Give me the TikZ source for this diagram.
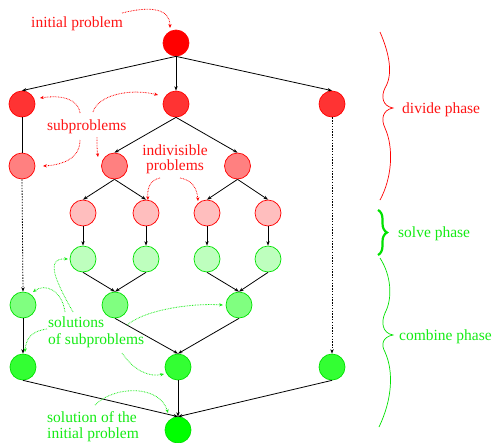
\documentclass[tikz,border=0pt]{standalone}
\usepackage{fontspec}
\setmainfont{Liberation Serif}
\usetikzlibrary{arrows.meta,decorations.pathreplacing}
\definecolor{cR0}{RGB}{255,0,0}
\definecolor{cR1}{RGB}{255,51,51}
\definecolor{cR2}{RGB}{255,128,128}
\definecolor{cR3}{RGB}{255,190,190}
\definecolor{cG4}{RGB}{190,255,190}
\definecolor{cG5}{RGB}{128,255,128}
\definecolor{cG6}{RGB}{51,255,51}
\definecolor{cG7}{RGB}{0,255,0}
\definecolor{txR}{RGB}{255,20,20}
\definecolor{txG}{RGB}{20,235,20}
\definecolor{bdG}{RGB}{0,225,0}
\begin{document}
\begin{tikzpicture}[x=1pt,y=-1pt,
  nd/.style={circle,minimum size=26pt,inner sep=0pt,line width=0.7pt},
  rn/.style={nd,draw=red,fill=#1},
  gn/.style={nd,draw=bdG,fill=#1},
  edge/.style={-{Stealth[length=4.5pt,width=3.4pt]},line width=0.8pt},
  pline/.style={line width=0.8pt},
  dedge/.style={edge,dash pattern=on 1.4pt off 1.4pt},
  ann/.style={-{Stealth[length=3.8pt,width=3.2pt]},line width=0.8pt,dash pattern=on 0.7pt off 0.9pt},
  lbl/.style={inner sep=0pt,font=\fontsize{15.5}{14.5}\selectfont},
  brc/.style={line width=0.7pt}
]
\useasboundingbox (0,0) rectangle (494,442);

% nodes
\node[rn=cR0] (r) at (176,43) {};
\node[rn=cR1] (a1) at (22,104) {};
\node[rn=cR1] (b1) at (176,104) {};
\node[rn=cR1] (c1) at (332,104) {};
\node[rn=cR2] (a2) at (22,166) {};
\node[rn=cR2] (b2) at (114.5,166) {};
\node[rn=cR2] (c2) at (237.5,166) {};
\node[rn=cR3] (d1) at (83,213) {};
\node[rn=cR3] (d2) at (146,213) {};
\node[rn=cR3] (d3) at (207,213) {};
\node[rn=cR3] (d4) at (268,213) {};
\node[gn=cG4] (e1) at (83,259) {};
\node[gn=cG4] (e2) at (146,259) {};
\node[gn=cG4] (e3) at (207,259) {};
\node[gn=cG4] (e4) at (268,259) {};
\node[gn=cG5] (f1) at (23,305) {};
\node[gn=cG5] (f2) at (115,305) {};
\node[gn=cG5] (f3) at (239,305) {};
\node[gn=cG6] (g1) at (23,367) {};
\node[gn=cG6] (g2) at (178,367) {};
\node[gn=cG6] (g3) at (332,367) {};
\node[gn=cG7] (h) at (178,430) {};

% edges
\draw[edge] (r.south) -- (a1.north);
\draw[edge] (r.south) -- (b1.north);
\draw[edge] (r.south) -- (c1.north);
\draw[pline] (a1.south) -- (a2.north);
\draw[edge] (b1.south) -- (b2.north);
\draw[edge] (b1.south) -- (c2.north);
\draw[edge] (b2.south) -- (d1.north);
\draw[edge] (b2.south) -- (d2.north);
\draw[edge] (c2.south) -- (d3.north);
\draw[edge] (c2.south) -- (d4.north);
\draw[edge] (d1.south) -- (e1.north);
\draw[edge] (d2.south) -- (e2.north);
\draw[edge] (d3.south) -- (e3.north);
\draw[edge] (d4.south) -- (e4.north);
\draw[edge] (e1.south) -- (f2.north);
\draw[edge] (e2.south) -- (f2.north);
\draw[edge] (e3.south) -- (f3.north);
\draw[edge] (e4.south) -- (f3.north);
\draw[dedge] (a2.south) -- (f1.north);
\draw[dedge] (c1.south) -- (g3.north);
\draw[edge] (f1.south) -- (g1.north);
\draw[edge] (f2.south) -- (g2.north);
\draw[edge] (f3.south) -- (g2.north);
\draw[edge] (g1.south) -- (h.north);
\draw[edge] (g2.south) -- (h.north);
\draw[edge] (g3.south) -- (h.north);

% labels
\node[lbl,text=txR,anchor=base west] (tInit) at (31,27) {initial problem};
\node[lbl,text=txR,anchor=base west] (tSub) at (47,130) {subproblems};
\node[lbl,text=txR,anchor=base,align=center] (tInd) at (175,170) {indivisible\\problems};
\node[lbl,text=txG,anchor=base west,align=left,font=\fontsize{15.5}{17}\selectfont] (tSol) at (48,344) {solutions\\of subproblems};
\node[lbl,text=txG,anchor=base west,align=left,font=\fontsize{15.5}{15.5}\selectfont] (tFin) at (47,438) {solution of the\\initial problem};
\node[lbl,text=txR,anchor=base west] (tDiv) at (402,113) {divide phase};
\node[lbl,text=txG,anchor=base west] (tSolve) at (398,237) {solve phase};
\node[lbl,text=txG,anchor=base west] (tComb) at (399,340) {combine phase};

% annotation arrows
\coordinate (p0) at (122,13); \coordinate (q0) at (170,28);
\draw[ann,red] (p0) .. controls (150,6) and (170,8) .. (q0);
\coordinate (p1) at (80,113); \coordinate (q1) at (40,98);
\draw[ann,red] (p1) .. controls (78,98) and (60,95) .. (q1);
\coordinate (p2) at (93,112); \coordinate (q2) at (158,95);
\draw[ann,red] (p2) .. controls (98,95) and (130,88) .. (q2);
\coordinate (p3) at (80,140); \coordinate (q3) at (43,166);
\draw[ann,red] (p3) .. controls (80,160) and (60,165) .. (q3);
\coordinate (p4) at (97,137); \coordinate (q4) at (98,157);
\draw[ann,red] (p4) .. controls (97,145) and (97,150) .. (q4);
\coordinate (p5) at (160,178); \coordinate (q5) at (148,200);
\draw[ann,red] (p5) .. controls (150,180) and (147,188) .. (q5);
\coordinate (p6) at (180,178); \coordinate (q6) at (198,201);
\draw[ann,red] (p6) .. controls (192,180) and (197,188) .. (q6);

\coordinate (pa) at (73,312); \coordinate (qa) at (68,259);
\draw[ann,txG] (pa) .. controls (55,280) and (45,258) .. (qa);
\coordinate (pb) at (65,312); \coordinate (qb) at (33,292);
\draw[ann,txG] (pb) .. controls (62,290) and (45,283) .. (qb);
\coordinate (pc) at (47,329); \coordinate (qc) at (25,352);
\draw[ann,txG] (pc) .. controls (32,331) and (26,338) .. (qc);
\coordinate (pd) at (127,325); \coordinate (qd) at (223,305);
\draw[ann,txG] (pd) .. controls (145,310) and (190,303) .. (qd);
\coordinate (pe) at (122,353); \coordinate (qe) at (164,374);
\draw[ann,txG] (pe) .. controls (135,372) and (150,377) .. (qe);
\coordinate (pf) at (95,405); \coordinate (qf) at (168,413);
\draw[ann,txG] (pf) .. controls (115,385) and (160,385) .. (qf);

% braces
\draw[brc,red] (380,32) .. controls (390,55) and (393,75) .. (385,88)
  .. controls (381,96) and (382,106) .. (393,108)
  .. controls (382,110) and (381,120) .. (385,128)
  .. controls (394,148) and (392,178) .. (380,200);
\draw[line width=2.2pt,bdG,decorate,decoration={brace,amplitude=9pt}] (378,210) -- (378,255);
\draw[brc,bdG] (380,258) .. controls (391,275) and (393,298) .. (385,313)
  .. controls (381,322) and (382,333) .. (393,335)
  .. controls (382,337) and (381,345) .. (385,352)
  .. controls (394,372) and (392,400) .. (379,427);
\end{tikzpicture}
\end{document}
